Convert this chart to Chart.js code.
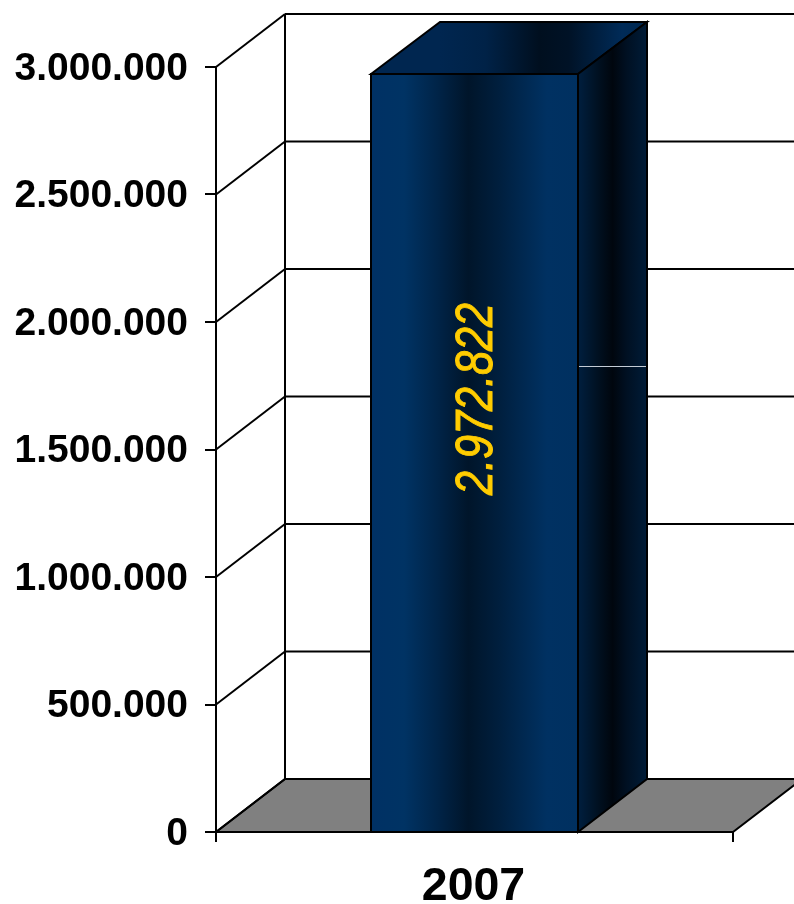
<!DOCTYPE html>
<html>
<head>
<meta charset="utf-8">
<title>2007</title>
<script src="https://cdn.jsdelivr.net/npm/chart.js@4"></script>
<style>
    html, body { margin: 0; padding: 0; background: #fff; overflow: hidden; }
    canvas { display: block; }
</style>
</head>
<body>
<canvas id="grafico" width="794" height="904"></canvas>
<script>
// dados
const categorias = ['2007'];
const valores = [2972822];
const valorRotulo = ['2.972.822'];
const yTicks = [0, 500000, 1000000, 1500000, 2000000, 2500000, 3000000];
const valorLinhaClara = [1827000]; // linha clara na lateral da barra

// profundidade do efeito 3D
const DX = 69;
const DY = 53;
const DY_TOPO = 52;
const LINHA = 2;

function formatarPonto(v) {
    return String(v).replace(/\B(?=(\d{3})+(?!\d))/g, '.');
}

function linha(ctx, x1, y1, x2, y2, cor, largura) {
    ctx.beginPath();
    ctx.moveTo(x1, y1);
    ctx.lineTo(x2, y2);
    ctx.strokeStyle = cor || '#000';
    ctx.lineWidth = largura || LINHA;
    ctx.stroke();
}

function poligono(ctx, pts, fundo) {
    ctx.beginPath();
    pts.forEach((p, i) => (i ? ctx.lineTo(p[0], p[1]) : ctx.moveTo(p[0], p[1])));
    ctx.closePath();
    ctx.fillStyle = fundo;
    ctx.fill();
    ctx.strokeStyle = '#000';
    ctx.lineWidth = LINHA;
    ctx.stroke();
}

function gradienteFrente(ctx, x0, x1) {
    const g = ctx.createLinearGradient(x0, 0, x1, 0);
    g.addColorStop(0, '#003164');
    g.addColorStop(0.16, '#003364');
    g.addColorStop(0.32, '#002448');
    g.addColorStop(0.47, '#00152a');
    g.addColorStop(0.62, '#001f3e');
    g.addColorStop(0.85, '#003162');
    g.addColorStop(1, '#003060');
    return g;
}

function gradienteTopo(ctx, x0, x1) {
    const g = ctx.createLinearGradient(x0, 0, x1, 0);
    g.addColorStop(0, '#002650');
    g.addColorStop(0.22, '#002247');
    g.addColorStop(0.48, '#000f1f');
    g.addColorStop(0.62, '#001226');
    g.addColorStop(0.88, '#002b58');
    g.addColorStop(1, '#002850');
    return g;
}

function gradienteLado(ctx, x0, x1) {
    const g = ctx.createLinearGradient(x0, 0, x1, 0);
    g.addColorStop(0, '#001f3f');
    g.addColorStop(0.3, '#001020');
    g.addColorStop(0.5, '#00060e');
    g.addColorStop(0.7, '#001022');
    g.addColorStop(1, '#001c38');
    return g;
}

// arredonda as bordas da barra para a linha sair nítida
function bordasBarra(chart) {
    const bar = chart.getDatasetMeta(0).data[0];
    return {
        esq: Math.round(bar.x - bar.width / 2),
        dir: Math.round(bar.x + bar.width / 2),
        topo: Math.round(bar.y),
        base: Math.round(chart.scales.y.getPixelForValue(0)),
    };
}

// paredes, chão e grades recuadas (desenhados antes dos eixos)
const cenario3d = {
    id: 'cenario3d',
    beforeDraw(chart) {
        const { ctx, chartArea: a, scales: { y } } = chart;
        const base = y.getPixelForValue(0);
        ctx.save();
        ctx.fillStyle = '#fff';
        ctx.fillRect(0, 0, chart.width, chart.height);
        poligono(ctx, [
            [a.left, base],
            [a.left + DX, base - DY],
            [a.right + DX, base - DY],
            [a.right, base],
        ], '#808080');
        yTicks.forEach((v) => {
            const py = y.getPixelForValue(v);
            linha(ctx, a.left, py, a.left + DX, py - DY);
            linha(ctx, a.left + DX, py - DY, a.right + DX, py - DY);
        });
        linha(ctx, a.left + DX, y.getPixelForValue(yTicks[yTicks.length - 1]) - DY, a.left + DX, base - DY);
        ctx.restore();
    },
    beforeDatasetsDraw(chart) {
        const { ctx, scales: { y } } = chart;
        const { esq, dir, topo, base } = bordasBarra(chart);
        ctx.save();
        poligono(ctx, [
            [esq, topo],
            [esq + DX, topo - DY_TOPO],
            [dir + DX, topo - DY_TOPO],
            [dir, topo],
        ], gradienteTopo(ctx, esq + DX, dir + DX));
        poligono(ctx, [
            [dir, topo],
            [dir + DX, topo - DY_TOPO],
            [dir + DX, base - DY],
            [dir, base],
        ], gradienteLado(ctx, dir, dir + DX));
        const pyClara = Math.round(y.getPixelForValue(valorLinhaClara[0])) + 0.5;
        linha(ctx, dir + 1, pyClara, dir + DX - 1, pyClara, '#c4ccd6', 1);
        ctx.restore();
    },
    afterDatasetsDraw(chart) {
        const { ctx } = chart;
        const { esq, dir, topo, base } = bordasBarra(chart);
        ctx.save();
        ctx.strokeStyle = '#000';
        ctx.lineWidth = LINHA;
        ctx.strokeRect(esq, topo, dir - esq, base - topo);
        ctx.translate((esq + dir) / 2 + 3, (topo + base) / 2 - 54);
        ctx.rotate(-Math.PI / 2);
        ctx.scale(0.83, 1);
        ctx.font = 'italic 52px "Liberation Sans"';
        ctx.fillStyle = '#ffcc00';
        ctx.strokeStyle = '#ffcc00';
        ctx.lineWidth = 1;
        ctx.textAlign = 'center';
        ctx.textBaseline = 'middle';
        ctx.fillText(valorRotulo[0], 0, 0);
        ctx.strokeText(valorRotulo[0], 0, 0);
        ctx.restore();
    },
};

new Chart(document.getElementById('grafico'), {
    type: 'bar',
    plugins: [cenario3d],
    data: {
        labels: categorias,
        datasets: [{
            data: valores,
            barPercentage: 0.402,
            categoryPercentage: 1,
            borderWidth: 0,
            backgroundColor: (c) => {
                const a = c.chart.chartArea;
                if (!a) return '#003164';
                const w = a.right - a.left;
                return gradienteFrente(c.chart.ctx, a.left + w * 0.3, a.left + w * 0.7);
            },
        }],
    },
    options: {
        responsive: false,
        animation: false,
        layout: { padding: { top: 67, right: 61, bottom: 0, left: 0 } },
        plugins: { legend: { display: false }, tooltip: { enabled: false } },
        scales: {
            x: {
                afterFit: (s) => { s.height = 72; },
                border: { color: '#000', width: LINHA },
                grid: { drawOnChartArea: false, color: '#000', lineWidth: LINHA, tickLength: 10 },
                ticks: {
                    color: '#000',
                    padding: 17,
                    labelOffset: -1,
                    font: { family: 'Liberation Sans', size: 46.5, weight: 'bold' },
                },
            },
            y: {
                min: 0,
                max: 3000000,
                afterFit: (s) => { s.width = 216; },
                afterBuildTicks: (s) => { s.ticks = yTicks.map((value) => ({ value })); },
                border: { color: '#000', width: LINHA },
                grid: { drawOnChartArea: false, color: '#000', lineWidth: LINHA, tickLength: 11 },
                ticks: {
                    color: '#000',
                    padding: 17,
                    labelOffset: 2,
                    callback: (v) => formatarPonto(v),
                    font: { family: 'Liberation Sans', size: 39, weight: 'bold' },
                },
            },
        },
    },
});
</script>
</body>
</html>
